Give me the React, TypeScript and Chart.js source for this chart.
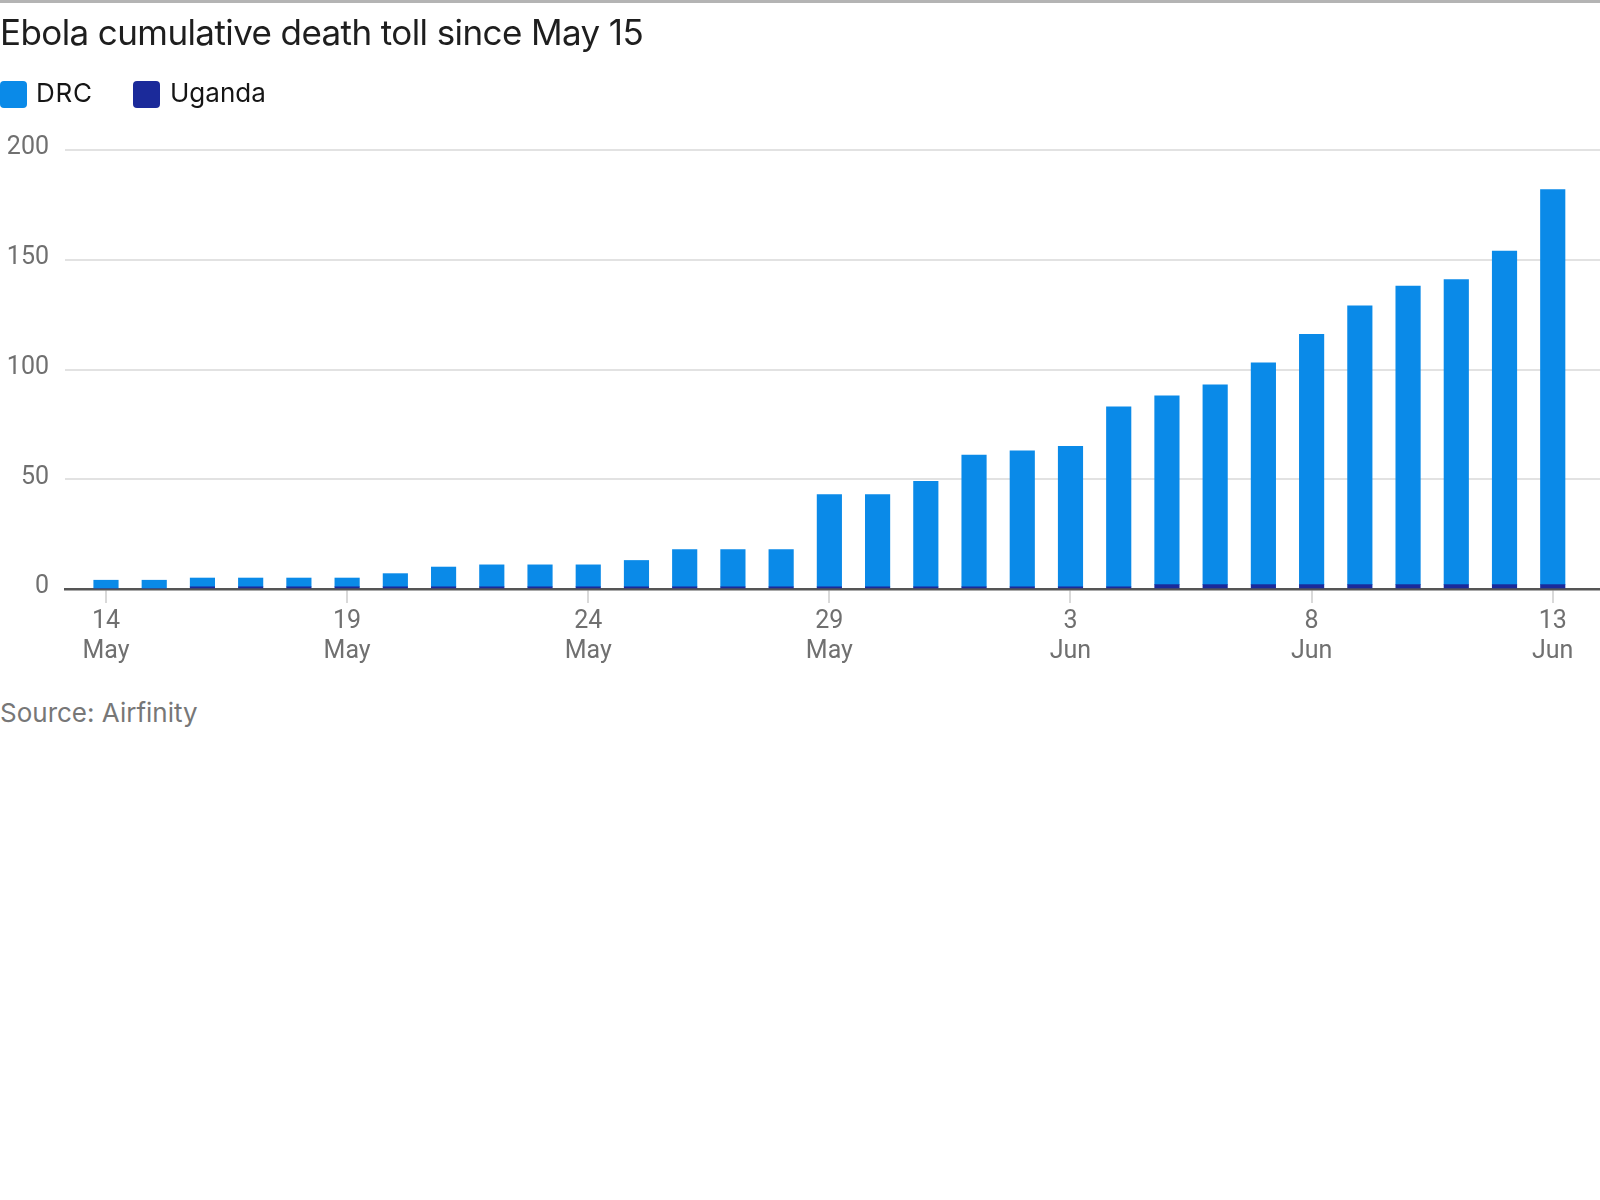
import React, { useEffect, useRef } from "react";
import { Chart, registerables } from "chart.js";

Chart.register(...registerables);

const days = [
  "14 May", "15 May", "16 May", "17 May", "18 May", "19 May", "20 May", "21 May",
  "22 May", "23 May", "24 May", "25 May", "26 May", "27 May", "28 May", "29 May",
  "30 May", "31 May", "1 Jun", "2 Jun", "3 Jun", "4 Jun", "5 Jun", "6 Jun",
  "7 Jun", "8 Jun", "9 Jun", "10 Jun", "11 Jun", "12 Jun", "13 Jun",
];

const drc = [
  4, 4, 4, 4, 4, 4, 6, 9, 10, 10, 10, 12, 17, 17, 17, 42,
  42, 48, 60, 62, 64, 82, 86, 91, 101, 114, 127, 136, 139, 152, 180,
];

const uganda = [
  0, 0, 1, 1, 1, 1, 1, 1, 1, 1, 1, 1, 1, 1, 1, 1,
  1, 1, 1, 1, 1, 1, 2, 2, 2, 2, 2, 2, 2, 2, 2,
];

const tickDays = [0, 5, 10, 15, 20, 25, 30];
const tickLabels = [
  ["14", "May"], ["19", "May"], ["24", "May"], ["29", "May"],
  ["3", "Jun"], ["8", "Jun"], ["13", "Jun"],
];
const yTicks = [0, 50, 100, 150, 200];

const DRC_COLOR = "#0a8ae8";
const UGANDA_COLOR = "#1b2a9a";
const TICK_FONT = "Roboto, 'Liberation Sans', sans-serif";
const TEXT_FONT = "Inter, 'Noto Sans', sans-serif";

export default function App() {
  const canvasRef = useRef<HTMLCanvasElement | null>(null);

  useEffect(() => {
    document.body.style.margin = "0";
    const canvas = canvasRef.current;
    if (!canvas) return;
    const chart = new Chart(canvas, {
      type: "bar",
      data: {
        datasets: [
          {
            label: "Uganda",
            data: uganda.map((v, i) => ({ x: i, y: v })),
            backgroundColor: UGANDA_COLOR,
            barThickness: 24.5,
            borderWidth: 0,
          },
          {
            label: "DRC",
            data: drc.map((v, i) => ({ x: i, y: v })),
            backgroundColor: DRC_COLOR,
            barThickness: 24.5,
            borderWidth: 0,
          },
        ],
      },
      options: {
        animation: false,
        responsive: true,
        maintainAspectRatio: false,
        layout: { padding: { top: 150, left: 0, right: 0, bottom: 0 } },
        plugins: {
          legend: { display: false },
          tooltip: { enabled: false },
          title: { display: false },
        },
        scales: {
          x: {
            type: "linear",
            stacked: true,
            offset: false,
            min: -0.85,
            max: 30.98,
            afterBuildTicks: (scale: any) => {
              scale.ticks = tickDays.map((v) => ({ value: v }));
            },
            afterFit: (scale: any) => {
              scale.height = 90;
            },
            grid: {
              offset: false,
              drawOnChartArea: false,
              drawTicks: true,
              tickLength: 14,
              color: "#d9d9d9",
              lineWidth: 2,
            },
            border: { display: true, color: "#555555", width: 2.5 },
            ticks: {
              autoSkip: false,
              maxRotation: 0,
              padding: 4,
              color: "#707070",
              font: { family: TICK_FONT, size: 25, lineHeight: 1.2 },
              callback: (value: any) => {
                const idx = tickDays.indexOf(Number(value));
                return idx >= 0 ? tickLabels[idx] : "";
              },
            },
          },
          y: {
            stacked: true,
            min: 0,
            max: 200,
            afterBuildTicks: (scale: any) => {
              scale.ticks = yTicks.map((v) => ({ value: v }));
            },
            afterFit: (scale: any) => {
              scale.width = 65;
            },
            grid: {
              drawTicks: false,
              color: "#e2e2e2",
              lineWidth: 2,
            },
            border: { display: false },
            ticks: {
              padding: 16,
              labelOffset: -2,
              color: "#707070",
              font: { family: TICK_FONT, size: 25 },
            },
          },
        },
      },
    });
    return () => chart.destroy();
  }, []);

  const legendItems = [
    { label: "DRC", color: DRC_COLOR, box: 0, text: 36, spacing: "0.8px" },
    { label: "Uganda", color: UGANDA_COLOR, box: 133, text: 170, spacing: "0px" },
  ];

  return (
    <div style={{ position: "relative", width: 1600, height: 1200, background: "#ffffff", overflow: "hidden" }}>
      <div style={{ position: "absolute", left: 0, top: 0, width: 1600, height: 3, background: "#b4b4b4" }} />
      <div style={{ position: "absolute", left: 0, top: 0, width: 1600, height: 679 }}>
        <canvas ref={canvasRef} />
      </div>
      <div
        style={{
          position: "absolute",
          left: 0,
          top: 12,
          fontFamily: TEXT_FONT,
          fontSize: 35,
          lineHeight: "40px",
          color: "#1e1e1e",
          letterSpacing: "-0.6px",
          whiteSpace: "nowrap",
        }}
      >
        Ebola cumulative death toll since May 15
      </div>
      {legendItems.map((it) => (
        <React.Fragment key={it.label}>
          <div
            style={{
              position: "absolute",
              left: it.box,
              top: 81,
              width: 27,
              height: 27,
              borderRadius: 4,
              background: it.color,
            }}
          />
          <div
            style={{
              position: "absolute",
              left: it.text,
              top: 78,
              fontFamily: TEXT_FONT,
              fontSize: 26,
              lineHeight: "30px",
              color: "#151515",
              letterSpacing: it.spacing,
              whiteSpace: "nowrap",
            }}
          >
            {it.label}
          </div>
        </React.Fragment>
      ))}
      <div
        style={{
          position: "absolute",
          left: 0,
          top: 698,
          fontFamily: TEXT_FONT,
          fontSize: 26,
          lineHeight: "30px",
          color: "#777777",
          whiteSpace: "nowrap",
        }}
      >
        Source: Airfinity
      </div>
    </div>
  );
}
